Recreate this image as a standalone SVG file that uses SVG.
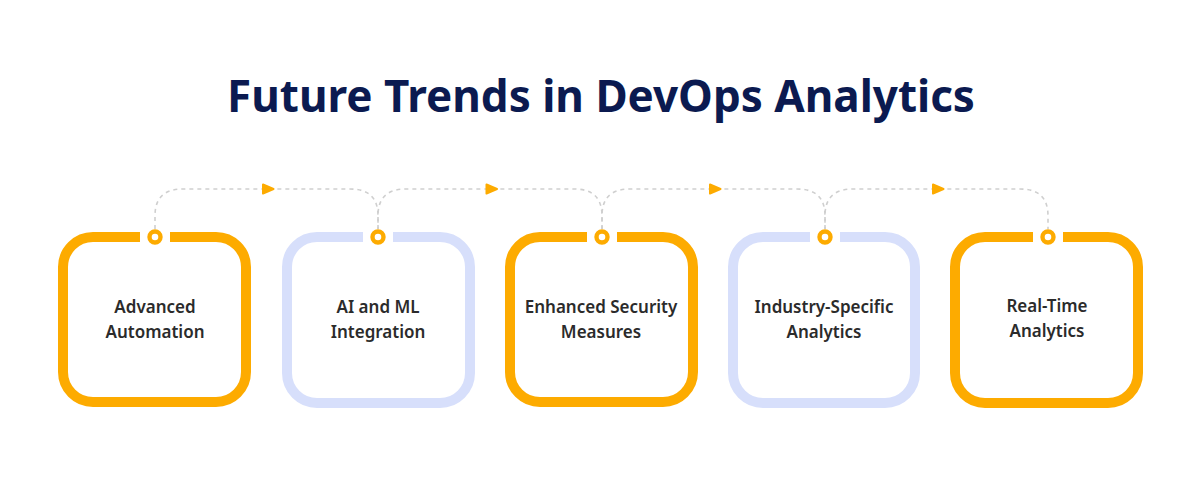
<svg xmlns="http://www.w3.org/2000/svg" xmlns:xlink="http://www.w3.org/1999/xlink" width="1201" height="481" viewBox="0 0 1201 481">
<style>
.title{font-family:"Noto Sans","Open Sans","Liberation Sans",sans-serif;font-weight:700;font-size:44px;fill:#0b1a50;text-anchor:middle}
.lbl{font-family:"Noto Sans","Open Sans","Liberation Sans",sans-serif;font-weight:600;font-size:17px;fill:#2b2b2b;text-anchor:middle}
.box{fill:none;stroke-width:10;stroke-linecap:butt}
.or{stroke:#fdab00}
.bl{stroke:#d7dffb}
.ring{fill:#fff;stroke:#fdab00;stroke-width:4.4}
.con{fill:none;stroke:#cfcfcf;stroke-width:1.6;stroke-dasharray:4 4}
.arr{fill:#fdab00;stroke:#fdab00;stroke-width:2;stroke-linejoin:round}
</style>
<defs>
<path id="arrow" class="arr" d="M-3.5,-4.5 L7,0 L-3.5,4.5 Z"/>
</defs>
<rect width="1201" height="481" fill="#fff"/>
<text class="title" x="601" y="112">Future Trends in DevOps Analytics</text>
<g id="connectors">
<path class="con" d="M155,229 V216 C155,198 164,189 183,189 H350 C369,189 378,198 378,216 V229"/>
<path class="con" d="M378,229 V216 C378,198 387,189 406,189 H574 C593,189 602,198 602,216 V229"/>
<path class="con" d="M602,229 V216 C602,198 611,189 630,189 H797 C816,189 825,198 825,216 V229"/>
<path class="con" d="M825,229 V216 C825,198 834,189 853,189 H1020 C1039,189 1048,198 1048,216 V229"/>
<use href="#arrow" x="266.5" y="189"/>
<use href="#arrow" x="490" y="189"/>
<use href="#arrow" x="713.5" y="189"/>
<use href="#arrow" x="936.5" y="189"/>
</g>
<g id="node1">
<path class="box or" d="M170,237 H216 A30,30 0 0 1 246,267 V372 A30,30 0 0 1 216,402 H93 A30,30 0 0 1 63,372 V267 A30,30 0 0 1 93,237 H140"/>
<circle class="ring" cx="155" cy="237" r="5.5"/>
<text class="lbl" x="155" y="313">Advanced</text>
<text class="lbl" x="155" y="338">Automation</text>
</g>
<g id="node2">
<path class="box bl" d="M393,237 H440 A30,30 0 0 1 470,267 V373 A30,30 0 0 1 440,403 H317 A30,30 0 0 1 287,373 V267 A30,30 0 0 1 317,237 H363"/>
<circle class="ring" cx="378" cy="237" r="5.5"/>
<text class="lbl" x="378" y="313">AI and ML</text>
<text class="lbl" x="378" y="338">Integration</text>
</g>
<g id="node3">
<path class="box or" d="M617,237 H663 A30,30 0 0 1 693,267 V372 A30,30 0 0 1 663,402 H540 A30,30 0 0 1 510,372 V267 A30,30 0 0 1 540,237 H587"/>
<circle class="ring" cx="602" cy="237" r="5.5"/>
<text class="lbl" x="601" y="313">Enhanced Security</text>
<text class="lbl" x="601" y="338">Measures</text>
</g>
<g id="node4">
<path class="box bl" d="M840,237 H885 A30,30 0 0 1 915,267 V373 A30,30 0 0 1 885,403 H763 A30,30 0 0 1 733,373 V267 A30,30 0 0 1 763,237 H810"/>
<circle class="ring" cx="825" cy="237" r="5.5"/>
<text class="lbl" x="824" y="313">Industry-Specific</text>
<text class="lbl" x="824" y="338">Analytics</text>
</g>
<g id="node5">
<path class="box or" d="M1063,237 H1108 A30,30 0 0 1 1138,267 V373 A30,30 0 0 1 1108,403 H985 A30,30 0 0 1 955,373 V267 A30,30 0 0 1 985,237 H1033"/>
<circle class="ring" cx="1048" cy="237" r="5.5"/>
<text class="lbl" x="1047" y="312">Real-Time</text>
<text class="lbl" x="1047" y="337">Analytics</text>
</g>
</svg>
